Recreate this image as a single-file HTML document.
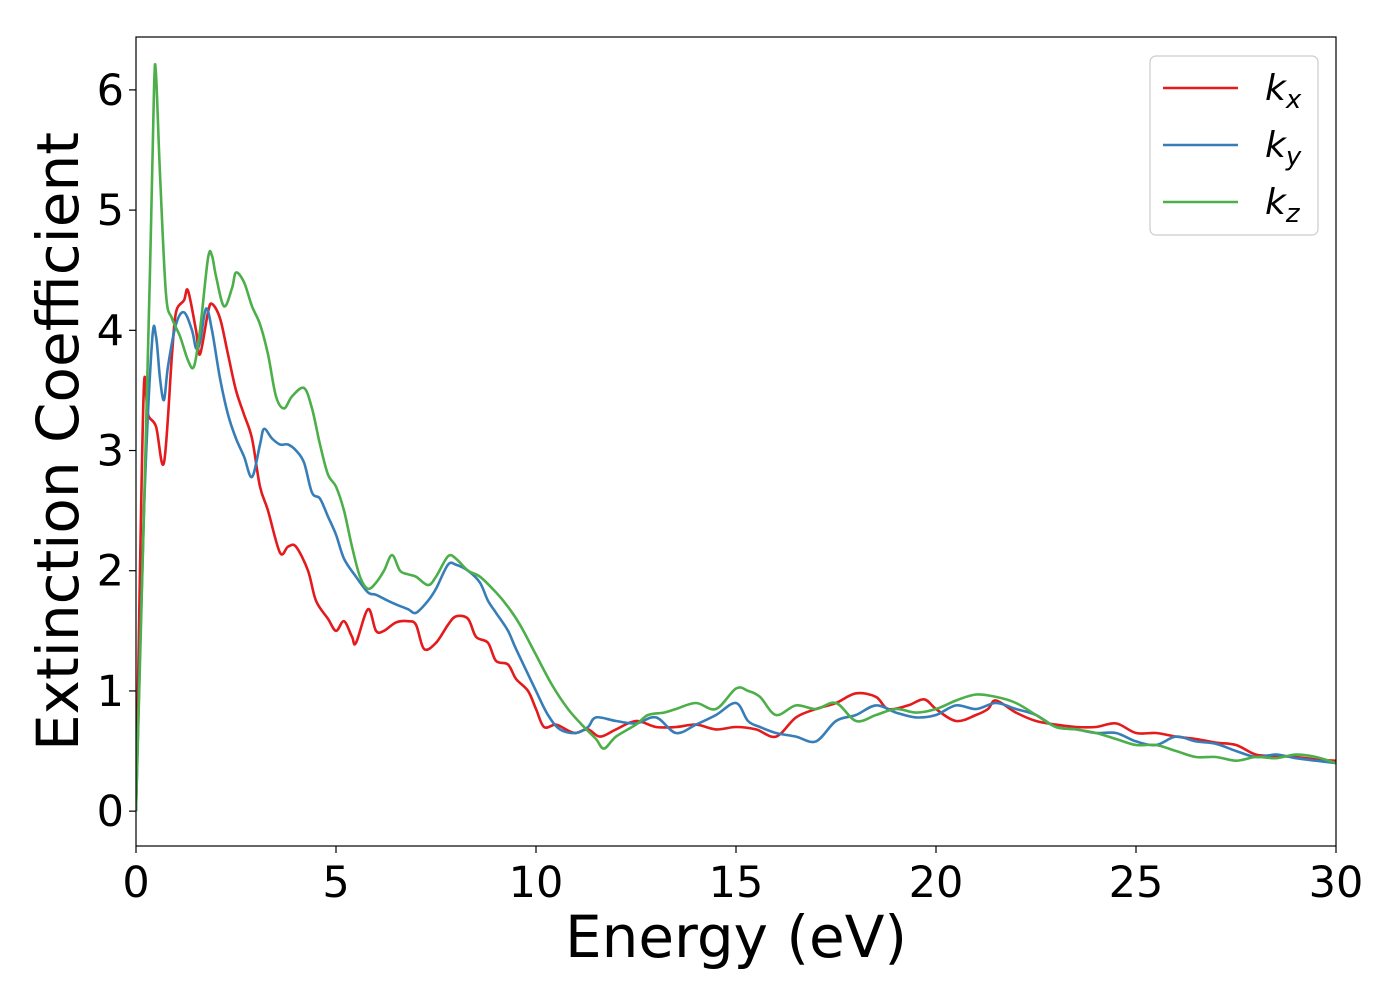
<!DOCTYPE html>
<html><head><meta charset="utf-8"><style>
html,body{margin:0;padding:0;background:#fff;}
svg{display:block;font-family:"DejaVu Sans","Liberation Sans",sans-serif;}
</style></head><body>
<svg id="chart" width="1400" height="1000" viewBox="0 0 1400 1000" xmlns="http://www.w3.org/2000/svg">
<rect width="1400" height="1000" fill="#fff"/>
<g id="plot"></g>
</svg>
<script>
const xTicks=[0,5,10,15,20,25,30];
const yTicks=[0,1,2,3,4,5,6];
const seriesNames=["kx","ky","kz"];
const seriesColors=["#e41a1c","#377eb8","#4daf4a"];
const kxE=[0,0.1,0.2,0.3,0.5,0.7,0.9,1.0,1.2,1.3,1.5,1.6,1.8,1.9,2.1,2.3,2.5,2.7,2.9,3.1,3.3,3.6,3.8,4.0,4.3,4.5,4.8,5.0,5.2,5.4,5.5,5.8,6.0,6.2,6.5,6.8,7.0,7.2,7.5,7.8,8.0,8.3,8.5,8.8,9.0,9.3,9.5,9.8,10.0,10.2,10.5,10.8,11.0,11.3,11.6,12.0,12.5,13.0,13.5,14.0,14.5,15,15.5,16,16.5,17,17.5,18,18.5,18.8,19.3,19.7,20,20.5,21,21.3,21.5,22,22.5,23,23.5,24,24.5,25,25.5,26,26.5,27,27.5,28,28.5,29,29.5,30];
const kxV=[0,2.0,3.55,3.3,3.2,2.9,3.8,4.15,4.25,4.33,4.0,3.8,4.15,4.22,4.1,3.8,3.5,3.3,3.1,2.7,2.5,2.15,2.2,2.2,2.0,1.75,1.6,1.5,1.58,1.45,1.4,1.68,1.5,1.5,1.57,1.58,1.55,1.35,1.4,1.55,1.62,1.6,1.45,1.4,1.25,1.22,1.1,1.0,0.85,0.7,0.72,0.67,0.65,0.68,0.62,0.68,0.75,0.7,0.7,0.72,0.68,0.7,0.68,0.62,0.78,0.85,0.9,0.98,0.95,0.85,0.88,0.93,0.85,0.75,0.8,0.85,0.92,0.82,0.75,0.72,0.7,0.7,0.73,0.65,0.65,0.62,0.6,0.57,0.55,0.47,0.46,0.45,0.43,0.42];
const kyE=[0,0.2,0.4,0.5,0.6,0.7,0.8,1.0,1.2,1.4,1.5,1.6,1.75,1.9,2.1,2.3,2.5,2.7,2.9,3.1,3.2,3.4,3.6,3.8,4.0,4.2,4.4,4.6,4.8,5.0,5.2,5.5,5.8,6.0,6.3,6.5,6.8,7.0,7.3,7.5,7.8,8.0,8.3,8.6,8.8,9.0,9.3,9.5,10.0,10.3,10.6,11.0,11.3,11.5,12,12.5,13,13.5,14,14.5,15,15.3,15.6,16,16.5,17,17.5,18,18.5,19,19.5,20,20.5,21,21.5,22,22.5,23,23.5,24,24.5,25,25.5,26,26.5,27,27.5,28,28.5,29,29.5,30];
const kyV=[0,2.5,3.9,3.95,3.6,3.42,3.7,4.05,4.15,4.0,3.85,3.9,4.18,4.0,3.6,3.3,3.1,2.95,2.78,3.05,3.18,3.1,3.05,3.05,3.0,2.9,2.65,2.6,2.45,2.3,2.1,1.95,1.82,1.8,1.75,1.72,1.68,1.65,1.75,1.85,2.05,2.05,2.0,1.9,1.75,1.65,1.5,1.35,1.0,0.8,0.68,0.65,0.7,0.78,0.75,0.73,0.78,0.65,0.72,0.8,0.9,0.75,0.7,0.65,0.62,0.58,0.75,0.8,0.88,0.82,0.78,0.8,0.88,0.85,0.9,0.85,0.8,0.7,0.68,0.65,0.65,0.58,0.55,0.62,0.58,0.56,0.5,0.45,0.47,0.44,0.42,0.4];
const kzE=[0,0.2,0.35,0.45,0.5,0.6,0.75,0.9,1.1,1.3,1.45,1.6,1.8,1.9,2.0,2.2,2.4,2.5,2.7,2.9,3.1,3.3,3.5,3.7,3.9,4.2,4.4,4.6,4.8,5.0,5.2,5.4,5.6,5.8,6.0,6.2,6.4,6.6,6.8,7.0,7.3,7.5,7.8,8.0,8.3,8.6,9.0,9.3,9.6,10.0,10.4,10.8,11.2,11.5,11.7,12.0,12.5,12.8,13.2,13.5,14,14.5,15,15.3,15.6,16,16.5,17,17.5,18,18.5,19,19.5,20,20.5,21,21.5,22,22.5,23,23.5,24,24.5,25,25.5,26,26.5,27,27.5,28,28.5,29,29.5,30];
const kzV=[0,2.5,4.5,6.0,6.13,5.3,4.3,4.1,3.95,3.75,3.7,4.0,4.6,4.62,4.45,4.2,4.35,4.48,4.4,4.2,4.05,3.8,3.45,3.35,3.45,3.52,3.35,3.05,2.8,2.7,2.5,2.2,1.95,1.85,1.9,2.0,2.13,2.0,1.97,1.95,1.88,1.95,2.12,2.1,2.0,1.95,1.82,1.7,1.55,1.3,1.05,0.85,0.7,0.6,0.52,0.62,0.72,0.8,0.82,0.85,0.9,0.85,1.02,1.0,0.95,0.8,0.88,0.85,0.9,0.75,0.8,0.85,0.82,0.85,0.92,0.97,0.95,0.9,0.8,0.7,0.68,0.65,0.6,0.55,0.55,0.5,0.45,0.45,0.42,0.45,0.44,0.47,0.45,0.4];

const L=136,R=1336,T=37,B=846;
const xMin=0,xMax=30,yMin=-0.29,yMax=6.44;
const sx=v=>L+(v-xMin)/(xMax-xMin)*(R-L);
const sy=v=>B-(v-yMin)/(yMax-yMin)*(B-T);
const NS="http://www.w3.org/2000/svg";
const g=document.getElementById('plot');
function mk(tag,attrs,parent){const e=document.createElementNS(NS,tag);for(const k in attrs)e.setAttribute(k,attrs[k]);(parent||g).appendChild(e);return e;}

function smoothPath(xs,ys){
  const p=xs.map((x,i)=>[sx(x),sy(ys[i])]);
  let d=`M${p[0][0].toFixed(1)},${p[0][1].toFixed(1)}`;
  for(let i=0;i<p.length-1;i++){
    const p0=p[i-1]||p[i],p1=p[i],p2=p[i+1],p3=p[i+2]||p[i+1];
    const c1=[p1[0]+(p2[0]-p0[0])/6,p1[1]+(p2[1]-p0[1])/6];
    const c2=[p2[0]-(p3[0]-p1[0])/6,p2[1]-(p3[1]-p1[1])/6];
    d+=`C${c1[0].toFixed(1)},${c1[1].toFixed(1)} ${c2[0].toFixed(1)},${c2[1].toFixed(1)} ${p2[0].toFixed(1)},${p2[1].toFixed(1)}`;
  }
  return d;
}

const clip=mk('clipPath',{id:'clip'});
mk('rect',{x:L,y:T,width:R-L,height:B-T},clip);

const data=[[kxE,kxV],[kyE,kyV],[kzE,kzV]];
data.forEach((s,i)=>{
  const p=mk('path',{d:smoothPath(s[0],s[1]),fill:'none',stroke:seriesColors[i],'stroke-width':2.6,'stroke-linejoin':'round','clip-path':'url(#clip)'});
  
  
});

const frame=mk('rect',{x:L,y:T,width:R-L,height:B-T,fill:'none',stroke:'#000','stroke-width':1.2});



xTicks.forEach(v=>{
  const t=mk('line',{x1:sx(v),x2:sx(v),y1:B,y2:B+7,stroke:'#000','stroke-width':1.2});
  
  
  const l=mk('text',{x:sx(v),y:B+51,'text-anchor':'middle','font-size':43,fill:'#000'});
  l.textContent=v;
  
  
});
yTicks.forEach(v=>{
  const t=mk('line',{x1:L-7,x2:L,y1:sy(v),y2:sy(v),stroke:'#000','stroke-width':1.2});
  
  
  const l=mk('text',{x:L-12,y:sy(v)+15,'text-anchor':'end','font-size':43,fill:'#000'});
  l.textContent=v;
  
  
});
const xt=mk('text',{x:(L+R)/2,y:957,'text-anchor':'middle','font-size':58,fill:'#000'});
xt.textContent='Energy (eV)';


const yt=mk('text',{x:0,y:0,'text-anchor':'middle','font-size':58,fill:'#000',transform:`translate(78,${(T+B)/2}) rotate(-90)`});
yt.textContent='Extinction Coefficient';



const lg=mk('g',{});


mk('rect',{x:1150,y:56,width:168,height:179,rx:6,fill:'#fff',stroke:'#ccc','stroke-width':1.2},lg);
const subs=['x','y','z'];
seriesNames.forEach((n,i)=>{
  const y=88+i*57;
  const ln=mk('line',{x1:1163,x2:1238,y1:y,y2:y,stroke:seriesColors[i],'stroke-width':2.6},lg);
  
  
  const tx=mk('text',{x:1265,y:y+12,'font-size':36,'font-style':'italic',fill:'#000'},lg);
  
  
  const a=document.createElementNS(NS,'tspan');a.textContent='k';tx.appendChild(a);
  const b=document.createElementNS(NS,'tspan');b.setAttribute('font-size','26');b.setAttribute('dy','8');b.textContent=subs[i];tx.appendChild(b);
});
</script>
</body></html>
